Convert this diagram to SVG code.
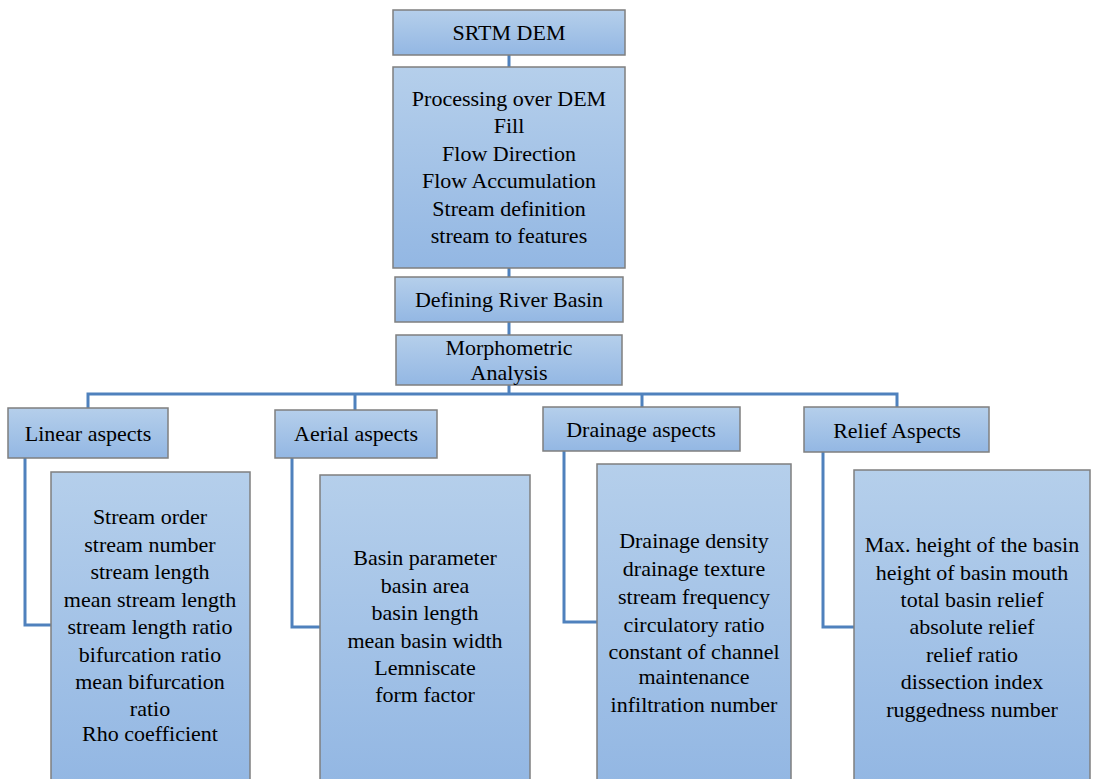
<svg xmlns="http://www.w3.org/2000/svg" width="1096" height="779" viewBox="0 0 1096 779">
<defs>
<linearGradient id="g" x1="0" y1="0" x2="0" y2="1">
<stop offset="0" stop-color="#b5cfeb"/>
<stop offset="1" stop-color="#93b7e3"/>
</linearGradient>
<style>
.box{fill:url(#g);stroke:#7f7f7f;stroke-width:1.5}
.t{font-size:22px;fill:#000;text-anchor:middle}
.c{fill:none;stroke:#4f81bd;stroke-width:3}
</style>
</defs>
<rect width="1096" height="779" fill="#fff"/>
<g id="connectors">
<path class="c" d="M509 55V67M509 268V277M509 322V335M509 385V394"/>
<path class="c" d="M88 408V394H897V407M355 394V410M642 394V407"/>
<path class="c" d="M25 458V625H51"/>
<path class="c" d="M292 458V627H320"/>
<path class="c" d="M564 451V622H597"/>
<path class="c" d="M823 452V627H854"/>
</g>
<g font-family="Liberation Serif, Times New Roman, DejaVu Serif, serif">
<g id="srtm"><rect class="box" x="393" y="10" width="232" height="45"/><text class="t" x="509" y="40">SRTM DEM</text></g>
<g id="processing"><rect class="box" x="393" y="67" width="232" height="201"/>
<text class="t" x="509" y="106">Processing over DEM</text>
<text class="t" x="509" y="133">Fill</text>
<text class="t" x="509" y="161">Flow Direction</text>
<text class="t" x="509" y="188">Flow Accumulation</text>
<text class="t" x="509" y="216">Stream definition</text>
<text class="t" x="509" y="243">stream to features</text></g>
<g id="basin"><rect class="box" x="395" y="277" width="228" height="45"/><text class="t" x="509" y="307">Defining River Basin</text></g>
<g id="morpho"><rect class="box" x="396" y="335" width="226" height="50"/><text class="t" x="509" y="355">Morphometric</text><text class="t" x="509" y="380">Analysis</text></g>
<g id="linear"><rect class="box" x="8" y="408" width="160" height="50"/><text class="t" x="88" y="441">Linear aspects</text></g>
<g id="aerial"><rect class="box" x="275" y="410" width="162" height="48"/><text class="t" x="356" y="441">Aerial aspects</text></g>
<g id="drainage"><rect class="box" x="543" y="407" width="197" height="44"/><text class="t" x="641" y="437">Drainage aspects</text></g>
<g id="relief"><rect class="box" x="804" y="407" width="185" height="45"/><text class="t" x="897" y="438">Relief Aspects</text></g>
<g id="linear-detail"><rect class="box" x="51" y="472" width="199" height="310"/>
<text class="t" x="150" y="524">Stream order</text>
<text class="t" x="150" y="552">stream number</text>
<text class="t" x="150" y="579">stream length</text>
<text class="t" x="150" y="607">mean stream length</text>
<text class="t" x="150" y="634">stream length ratio</text>
<text class="t" x="150" y="662">bifurcation ratio</text>
<text class="t" x="150" y="689">mean bifurcation</text>
<text class="t" x="150" y="716">ratio</text>
<text class="t" x="150" y="741">Rho coefficient</text></g>
<g id="aerial-detail"><rect class="box" x="320" y="475" width="210" height="307"/>
<text class="t" x="425" y="565">Basin parameter</text>
<text class="t" x="425" y="593">basin area</text>
<text class="t" x="425" y="620">basin length</text>
<text class="t" x="425" y="648">mean basin width</text>
<text class="t" x="425" y="675">Lemniscate</text>
<text class="t" x="425" y="702">form factor</text></g>
<g id="drainage-detail"><rect class="box" x="597" y="464" width="194" height="318"/>
<text class="t" x="694" y="548">Drainage density</text>
<text class="t" x="694" y="576">drainage texture</text>
<text class="t" x="694" y="604">stream frequency</text>
<text class="t" x="694" y="632">circulatory ratio</text>
<text class="t" x="694" y="659">constant of channel</text>
<text class="t" x="694" y="684">maintenance</text>
<text class="t" x="694" y="712">infiltration number</text></g>
<g id="relief-detail"><rect class="box" x="854" y="470" width="236" height="312"/>
<text class="t" x="972" y="552">Max. height of the basin</text>
<text class="t" x="972" y="580">height of basin mouth</text>
<text class="t" x="972" y="607">total basin relief</text>
<text class="t" x="972" y="634">absolute relief</text>
<text class="t" x="972" y="662">relief ratio</text>
<text class="t" x="972" y="689">dissection index</text>
<text class="t" x="972" y="717">ruggedness number</text></g>
</g>
</svg>
